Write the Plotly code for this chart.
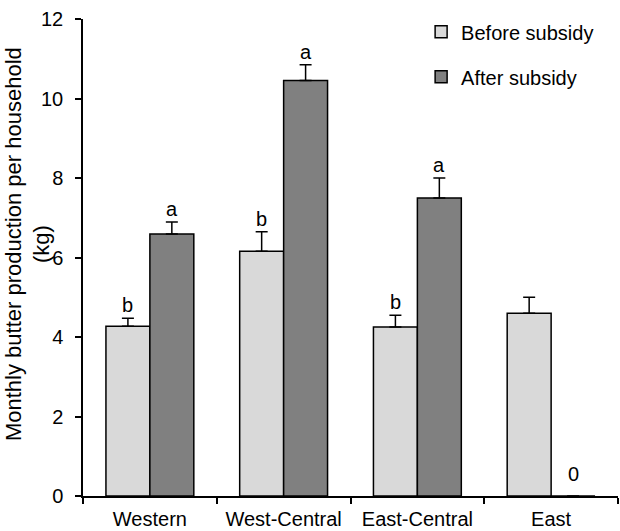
import plotly.graph_objects as go

regions = ["Western", "West-Central", "East-Central", "East"]
before = [4.27, 6.16, 4.25, 4.60]
before_err = [0.20, 0.49, 0.30, 0.40]
after = [6.59, 10.45, 7.50, 0.0]
after_err = [0.30, 0.40, 0.50, 0.0]
before_letters = ["b", "b", "b", ""]
after_letters = ["a", "a", "a", "0"]

FONT = "Liberation Sans, Arial, sans-serif"
BAR_OFFSET = 0.164

fig = go.Figure()
fig.add_trace(go.Bar(
    name="Before subsidy", x=regions, y=before, legendgroup="b",
    marker=dict(color="#d9d9d9", line=dict(color="black", width=1.5)),
    error_y=dict(type="data", array=before_err, arrayminus=[0] * 4, symmetric=False,
                 color="black", thickness=1.5, width=6),
))
fig.add_trace(go.Bar(
    name="After subsidy", x=regions, y=after, legendgroup="a",
    marker=dict(color="#808080", line=dict(color="black", width=1.5)),
    error_y=dict(type="data", array=[e if e > 0 else None for e in after_err],
                 arrayminus=[0] * 4, symmetric=False,
                 color="black", thickness=1.5, width=6),
))

# significance letters above each error bar
for i in range(len(regions)):
    for vals, errs, letters, sign in ((before, before_err, before_letters, -1),
                                      (after, after_err, after_letters, 1)):
        if letters[i]:
            top = vals[i] + errs[i]
            fig.add_annotation(
                x=i + sign * BAR_OFFSET, y=top, xref="x", yref="y",
                text=letters[i], showarrow=False, yanchor="bottom",
                yshift=0 if errs[i] > 0 else 9,
                font=dict(family=FONT, size=20, color="black"),
            )

fig.add_annotation(
    x=-0.103, y=0.528, xref="paper", yref="paper",
    text="Monthly butter production per household<br>(kg)",
    textangle=-90, showarrow=False, xanchor="center", yanchor="middle",
    font=dict(family=FONT, size=22, color="black"),
)

fig.update_layout(
    width=620, height=531,
    margin=dict(l=83, r=2, t=19, b=35),
    paper_bgcolor="white", plot_bgcolor="white",
    barmode="group", bargap=0.343, bargroupgap=0,
    font=dict(family=FONT, size=20, color="black"),
    showlegend=True,
    legend=dict(x=0.632, y=1.014, xanchor="left", yanchor="top",
                bgcolor="rgba(0,0,0,0)", tracegroupgap=16,
                font=dict(family=FONT, size=20, color="black")),
    xaxis=dict(type="category", range=[-0.5, 3.5], showline=True, linecolor="black",
               linewidth=1.5, ticks="outside", tickson="boundaries", ticklen=6,
               tickwidth=1.5, tickcolor="black", showgrid=False, ticklabelstandoff=4),
    yaxis=dict(range=[0, 12], dtick=2, showline=True, linecolor="black", linewidth=1.5,
               ticks="outside", ticklen=6, tickwidth=1.5, tickcolor="black",
               showgrid=False, zeroline=False, ticklabelstandoff=8),
)

fig.write_html("out.html")
